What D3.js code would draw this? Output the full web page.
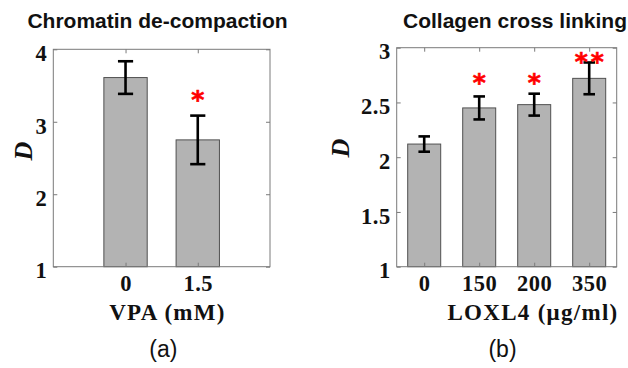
<!DOCTYPE html>
<html>
<head>
<meta charset="utf-8">
<script src="https://cdn.jsdelivr.net/npm/d3@7"></script>
<style>
  body { margin: 0; background: #fff; }
  svg { display: block; }
  .tick text { font-family: "Liberation Serif", "Times New Roman", serif; font-weight: bold; font-size: 22.5px; fill: #111; letter-spacing: 0.5px; }
  .tick line { stroke: #7a7a7a; stroke-width: 1; }
  .title { font-family: "Liberation Sans", Arial, sans-serif; font-weight: bold; font-size: 21px; fill: #111; }
  .xlabel { font-family: "Liberation Serif", "Times New Roman", serif; font-weight: bold; font-size: 23px; letter-spacing: 1.3px; fill: #111; }
  .ylabel { font-family: "Liberation Serif", "Times New Roman", serif; font-weight: bold; font-style: italic; font-size: 26px; fill: #111; }
  .panel { font-family: "Liberation Sans", Arial, sans-serif; font-size: 23px; fill: #111; }
  .sig { font-family: "DejaVu Sans", sans-serif; font-weight: bold; font-size: 25px; fill: #ff0000; stroke: #ff0000; stroke-width: 0.6px; }
</style>
</head>
<body>
<svg id="fig" width="628" height="368"></svg>
<script>
// Panel (a): chromatin de-compaction with valproic acid
const vpaDose = ["0", "1.5"];
const vpaD = [3.61, 2.75];
const vpaSem = [0.225, 0.335];
const vpaSig = ["", "*"];
const vpaSigAt = [null, 3.37];
const vpaTicks = [1, 2, 3, 4];

// Panel (b): collagen cross linking with LOXL4
const loxDose = ["0", "150", "200", "350"];
const loxD = [2.12, 2.45, 2.48, 2.72];
const loxSem = [0.07, 0.105, 0.10, 0.145];
const loxSig = ["", "*", "*", "**"];
const loxSigAt = [null, 2.726, 2.726, 2.915];
const loxTicks = [1, 1.5, 2, 2.5, 3];

const svg = d3.select("#fig");
svg.append("rect").attr("width", 628).attr("height", 368).attr("fill", "#fff");

function drawPanel(cfg) {
  const g = svg.append("g");
  const x = d3.scaleLinear().domain(cfg.xDomain).range([cfg.left, cfg.right]);
  const y = d3.scaleLinear().domain(cfg.yDomain).range([cfg.bottom, cfg.top]);
  const pos = cfg.cats.map((_, i) => i + 1);
  const halfBar = 0.3, halfCap = 0.105;

  // bars
  g.selectAll("rect.bar").data(cfg.values).join("rect")
    .attr("class", "bar")
    .attr("x", (d, i) => x(pos[i] - halfBar))
    .attr("width", (d, i) => x(pos[i] + halfBar) - x(pos[i] - halfBar))
    .attr("y", d => y(d))
    .attr("height", d => y(cfg.yDomain[0]) - y(d))
    .attr("fill", "#b3b3b3")
    .attr("stroke", "#505050")
    .attr("stroke-width", 1);

  // axes with inward ticks on all four sides
  const tickLen = -4;
  g.append("g").attr("transform", `translate(0,${cfg.bottom})`)
    .call(d3.axisBottom(x).tickValues(pos).tickFormat(v => cfg.cats[v - 1])
      .tickSizeInner(tickLen).tickSizeOuter(0).tickPadding(8.5))
    .call(a => a.select(".domain").remove());
  g.append("g").attr("transform", `translate(0,${cfg.top})`)
    .call(d3.axisTop(x).tickValues(pos).tickFormat("")
      .tickSizeInner(tickLen).tickSizeOuter(0))
    .call(a => a.select(".domain").remove());
  g.append("g").attr("transform", `translate(${cfg.left},0)`)
    .call(d3.axisLeft(y).tickValues(cfg.yTicks).tickFormat(v => String(v))
      .tickSizeInner(tickLen).tickSizeOuter(0).tickPadding(6))
    .call(a => a.select(".domain").remove())
    .call(a => a.selectAll("text").attr("dy", "0.5em"));
  g.append("g").attr("transform", `translate(${cfg.right},0)`)
    .call(d3.axisRight(y).tickValues(cfg.yTicks).tickFormat("")
      .tickSizeInner(tickLen).tickSizeOuter(0))
    .call(a => a.select(".domain").remove());

  // box
  g.append("rect")
    .attr("x", cfg.left).attr("y", cfg.top)
    .attr("width", cfg.right - cfg.left).attr("height", cfg.bottom - cfg.top)
    .attr("fill", "none").attr("stroke", "#7a7a7a").attr("stroke-width", 1);

  // error bars
  const eb = g.selectAll("g.err").data(cfg.values).join("g").attr("class", "err")
    .attr("stroke", "#000").attr("stroke-width", 2.6).attr("fill", "none");
  eb.append("line")
    .attr("x1", (d, i) => x(pos[i])).attr("x2", (d, i) => x(pos[i]))
    .attr("y1", (d, i) => y(d - cfg.errs[i])).attr("y2", (d, i) => y(d + cfg.errs[i]));
  eb.append("line")
    .attr("x1", (d, i) => x(pos[i] - halfCap)).attr("x2", (d, i) => x(pos[i] + halfCap))
    .attr("y1", (d, i) => y(d + cfg.errs[i])).attr("y2", (d, i) => y(d + cfg.errs[i]));
  eb.append("line")
    .attr("x1", (d, i) => x(pos[i] - halfCap)).attr("x2", (d, i) => x(pos[i] + halfCap))
    .attr("y1", (d, i) => y(d - cfg.errs[i])).attr("y2", (d, i) => y(d - cfg.errs[i]));

  // significance markers: one glyph per star, centred on the anchor
  const starGap = 16;
  cfg.sig.forEach((s, i) => {
    if (!s) return;
    const n = s.length;
    for (let k = 0; k < n; k++) {
      const cx = x(pos[i]) + (k - (n - 1) / 2) * starGap;
      const t = g.append("text").attr("class", "sig").text("*").attr("x", 0).attr("y", 0);
      const bb = t.node().getBBox();
      t.attr("x", cx - (bb.x + bb.width / 2))
       .attr("y", y(cfg.sigAt[i]) - (bb.y + bb.height * 0.33));
    }
  });

  // title, axis labels, panel tag
  g.append("text").attr("class", "title")
    .attr("x", cfg.titleX).attr("y", 28).attr("text-anchor", "middle").text(cfg.title);
  g.append("text").attr("class", "xlabel")
    .attr("x", cfg.xlabelX).attr("y", 320).attr("text-anchor", "middle").text(cfg.xlabel);
  g.append("text").attr("class", "ylabel")
    .attr("transform", `translate(${cfg.ylabelX},${cfg.ylabelY}) rotate(-90)`)
    .attr("text-anchor", "middle").text("D");
  g.append("text").attr("class", "panel")
    .attr("x", cfg.tagX).attr("y", 357).attr("text-anchor", "middle").text(cfg.tag);
}

drawPanel({
  left: 53.3, right: 270, top: 49.3, bottom: 266.7,
  xDomain: [0, 3], yDomain: [1, 4], yTicks: vpaTicks,
  cats: vpaDose, values: vpaD, errs: vpaSem, sig: vpaSig, sigAt: vpaSigAt,
  title: "Chromatin de-compaction", titleX: 157.5,
  xlabel: "VPA (mM)", xlabelX: 167.5,
  ylabelX: 32, ylabelY: 151,
  tag: "(a)", tagX: 163.3
});

drawPanel({
  left: 396.7, right: 616.7, top: 47.7, bottom: 266.7,
  xDomain: [0.5, 4.5], yDomain: [1, 3], yTicks: loxTicks,
  cats: loxDose, values: loxD, errs: loxSem, sig: loxSig, sigAt: loxSigAt,
  title: "Collagen cross linking", titleX: 515,
  xlabel: "LOXL4 (μg/ml)", xlabelX: 533,
  ylabelX: 348.5, ylabelY: 148,
  tag: "(b)", tagX: 502.5
});
</script>
</body>
</html>
